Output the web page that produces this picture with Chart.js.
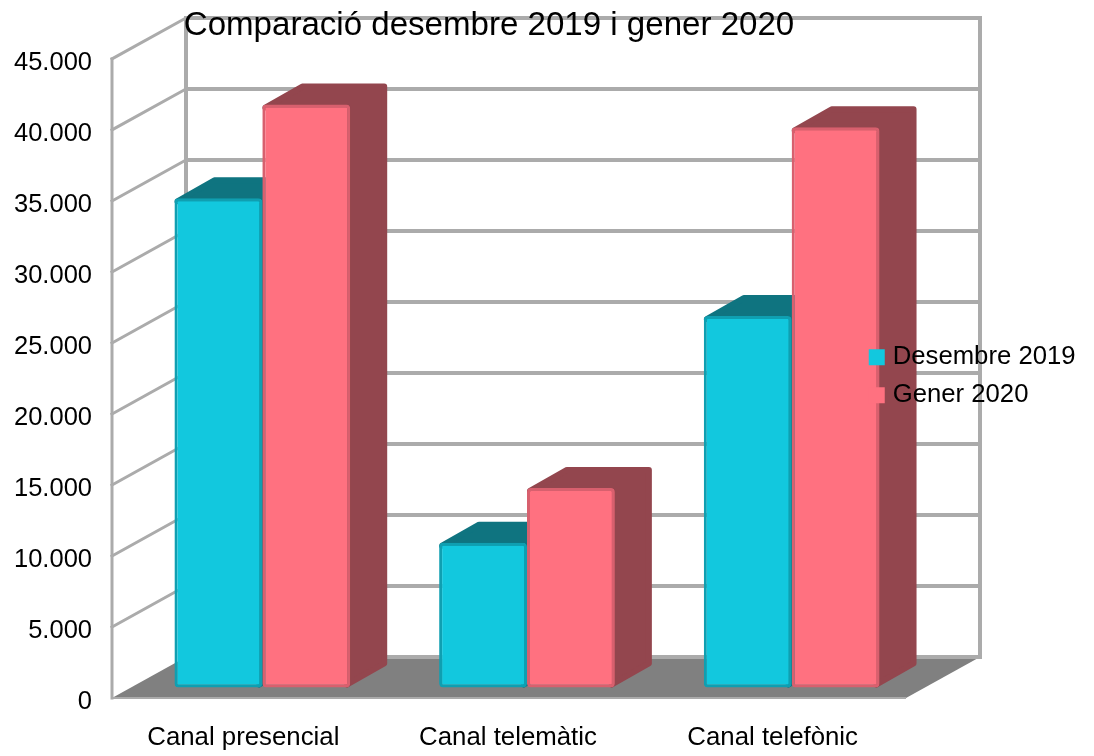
<!DOCTYPE html>
<html>
<head>
<meta charset="utf-8">
<style>
html,body{margin:0;padding:0;background:#fff;}
canvas{display:block;filter:blur(0.6px);}
</style>
<script src="https://cdn.jsdelivr.net/npm/chart.js@4"></script>
</head>
<body>
<canvas id="c" width="1094" height="756"></canvas>
<script>
const categories = ['Canal presencial', 'Canal telemàtic', 'Canal telefònic'];
const desembre2019 = [34450, 10200, 26150];
const gener2020 = [41050, 14050, 39450];
const seriesNames = ['Desembre 2019', 'Gener 2020'];
const yTicksMax = 45000;
const yTickStep = 5000;
const chartTitle = 'Comparació desembre 2019 i gener 2020';

const FONT = '"Liberation Sans", Arial, sans-serif';
const GRID = '#ababab';
const FLOOR = '#808080';
const WALL_DX = 74, WALL_DY = -41;      // depth of the chart box
const BAR_DX = 18, BAR_DY = -10.5;      // bars sit a quarter into the box
const SIDE_DX = 37, SIDE_DY = -21;      // depth of each bar
const faceColors = [
  {front:'#12c8de', edge:'#0f9fb1', dark:'#0f7480'},
  {front:'#ff7180', edge:'#d8606e', dark:'#93464e'}
];

function poly(ctx, pts, fill){
  ctx.beginPath();
  pts.forEach((p,i)=> i ? ctx.lineTo(p[0],p[1]) : ctx.moveTo(p[0],p[1]));
  ctx.closePath();
  ctx.fillStyle = fill;
  ctx.fill();
}
function roundedPoly(ctx, pts, fill, r){
  poly(ctx, pts, fill);
  ctx.strokeStyle = fill; ctx.lineWidth = r*2; ctx.lineJoin = 'round'; ctx.stroke();
}
function line(ctx, x1,y1,x2,y2,w){
  ctx.beginPath(); ctx.moveTo(x1,y1); ctx.lineTo(x2,y2);
  ctx.lineWidth = w; ctx.strokeStyle = GRID; ctx.lineCap = 'square'; ctx.stroke();
}

const box3d = {
  id:'box3d',
  beforeLayout(chart){
    const l = chart.legend;
    if (l && !l.__patched){
      l.__patched = true;
      l._layers = () => [{z:5, draw(){ l.draw(); }}];
    }
  },
  afterLayout(chart){
    // title is centred over the plot box, legend floats over the plot's right side
    const t = chart.titleBlock;
    if (t){ t.left = 0; t.right = 978; }
    const l = chart.legend;
    if (l){ l.left = 861.3; l.right = 1090; l.top = 332; }
  },
  beforeDraw(chart){
    // box walls go under everything, including the title
    const {ctx, scales:{y}, chartArea:a} = chart;
    ctx.save();
    const y0 = y.getPixelForValue(0);
    poly(ctx, [[a.left,y0],[a.right,y0],[a.right+WALL_DX,y0+WALL_DY],[a.left+WALL_DX,y0+WALL_DY]], FLOOR);
    y.ticks.forEach(t=>{
      const py = y.getPixelForValue(t.value);
      line(ctx, a.left+WALL_DX, py+WALL_DY, a.right+WALL_DX, py+WALL_DY, 4);
      if (t.value !== 0) line(ctx, a.left, py, a.left+WALL_DX, py+WALL_DY, 3);
    });
    const top = y.getPixelForValue(yTicksMax);
    line(ctx, a.left, top, a.left, y0, 3);
    line(ctx, a.left+WALL_DX, top+WALL_DY, a.left+WALL_DX, y0+WALL_DY, 4);
    line(ctx, a.right+WALL_DX, top+WALL_DY, a.right+WALL_DX, y0+WALL_DY, 4);
    ctx.lineCap = 'butt';
    ctx.beginPath(); ctx.moveTo(a.left,y0); ctx.lineTo(a.right,y0);
    ctx.lineWidth = 2; ctx.strokeStyle = GRID; ctx.stroke();
    ctx.restore();
  },
  beforeDatasetsDraw(chart){
    // bar tops and sides, slightly rounded
    const {ctx} = chart;
    ctx.save();
    const r = 3;
    chart.data.datasets.forEach((ds,i)=>{
      chart.getDatasetMeta(i).data.forEach(bar=>{
        const p = bar.getProps(['x','y','base','width'], true);
        const L = p.x - p.width/2 + BAR_DX, R = p.x + p.width/2 + BAR_DX;
        const T = p.y + BAR_DY, B = p.base + BAR_DY;
        const dark = faceColors[i].dark;
        roundedPoly(ctx, [
          [L+r,T+r],[L+SIDE_DX+r,T+SIDE_DY+r],[R+SIDE_DX-r,T+SIDE_DY+r],
          [R+SIDE_DX-r,B+SIDE_DY-r],[R-r,B-r],[R-r,T+r]
        ], dark, r);
      });
    });
    ctx.restore();
  },
  beforeDatasetDraw(chart){
    chart.ctx.save();
    chart.ctx.translate(BAR_DX, BAR_DY);
  },
  afterDatasetDraw(chart){
    chart.ctx.restore();
  }
};

new Chart(document.getElementById('c'), {
  type:'bar',
  data:{
    labels:categories,
    datasets:[
      {label:seriesNames[0], data:desembre2019, backgroundColor:faceColors[0].front, borderColor:faceColors[0].edge},
      {label:seriesNames[1], data:gener2020, backgroundColor:faceColors[1].front, borderColor:faceColors[1].edge}
    ]
  },
  plugins:[box3d],
  options:{
    responsive:false,
    animation:false,
    clip:false,
    layout:{padding:{left:0,right:188,top:0,bottom:0}},
    datasets:{bar:{categoryPercentage:0.664, barPercentage:1, borderWidth:3, borderRadius:4, borderSkipped:false, clip:false}},
    scales:{
      x:{
        grid:{display:false, drawTicks:false},
        border:{display:false},
        ticks:{color:'#000', font:{family:FONT,size:25.8}, padding:24, maxRotation:0, autoSkip:false, labelOffset:-1},
        afterFit(s){ s.height = 58; }
      },
      y:{
        min:0, max:yTicksMax,
        grid:{display:false, drawTicks:false},
        border:{display:false},
        ticks:{stepSize:yTickStep, color:'#000', font:{family:FONT,size:25.5}, padding:20, labelOffset:4,
          callback:v=>v.toLocaleString('de-DE')},
        afterFit(s){ s.width = 112; }
      }
    },
    plugins:{
      tooltip:{enabled:false},
      title:{display:true, text:chartTitle, color:'#000', font:{family:FONT,size:33.1,weight:'normal'}, padding:{top:6.5,bottom:12.7}},
      legend:{
        display:true, position:'chartArea', align:'start',
        labels:{
          font:{family:FONT,size:25.7}, color:'#000', padding:12.3, boxWidth:6.3, boxHeight:6.3,
          generateLabels(chart){
            return chart.data.datasets.map((d,i)=>({
              text:d.label, fillStyle:d.backgroundColor, strokeStyle:d.backgroundColor,
              lineWidth:9.7, datasetIndex:i, fontColor:'#000'
            }));
          }
        }
      }
    }
  }
});
</script>
</body>
</html>
